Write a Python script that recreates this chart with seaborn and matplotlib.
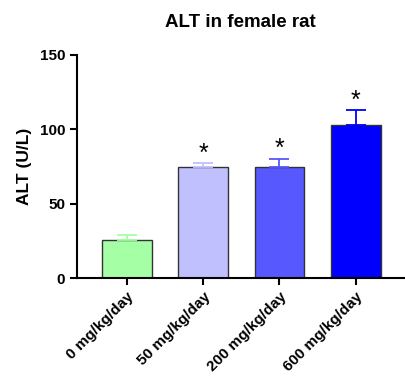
import numpy as np
import pandas as pd
import matplotlib
matplotlib.use('Agg')
import matplotlib.pyplot as plt
import seaborn as sns

groups = ['0 mg/kg/day', '50 mg/kg/day', '200 mg/kg/day', '600 mg/kg/day']
alt_mean = [25.6, 74.8, 74.8, 103.2]
alt_sem = [3.5, 2.3, 5.2, 9.6]
signif = ['', '*', '*', '*']
colors = ['#A5FFA5', '#C0C0FF', '#5858FF', '#0000FF']

sns.set_style('ticks')
plt.rcParams['font.family'] = ['Liberation Sans', 'DejaVu Sans']
plt.rcParams['font.weight'] = 'bold'
plt.rcParams['text.color'] = 'black'
plt.rcParams['axes.labelcolor'] = 'black'
plt.rcParams['xtick.color'] = 'black'
plt.rcParams['ytick.color'] = 'black'
plt.rcParams['axes.edgecolor'] = 'black'

df = pd.DataFrame({'group': groups, 'ALT': alt_mean})

fig = plt.figure(figsize=(4.06, 3.81), dpi=100)
ax = fig.add_axes([0.19, 0.27, 0.805, 0.586])

sns.barplot(data=df, x='group', y='ALT', hue='group', palette=colors, saturation=1,
            width=0.65, edgecolor='#333333', linewidth=1.0, legend=False, ax=ax)

for i in range(len(groups)):
    ax.errorbar(i, alt_mean[i], yerr=[[0], [alt_sem[i]]], color=colors[i],
                capsize=7, elinewidth=1.3, capthick=1.3, fmt='none', zorder=1)
    if signif[i]:
        ax.text(i, alt_mean[i] + alt_sem[i] - 1.5, signif[i], ha='center',
                va='bottom', fontsize=18, fontweight='normal')

ax.set_xlim(-0.65, 3.63)
ax.set_ylim(0, 150)
ax.set_yticks([0, 50, 100, 150])
ax.set_xlabel('')
ax.set_ylabel('ALT (U/L)', fontsize=12.5, fontweight='bold', labelpad=6)
ax.set_title('ALT in female rat', fontsize=13.5, fontweight='bold', pad=20)
ax.tick_params(axis='both', labelsize=11, width=1.5, length=5)
plt.setp(ax.get_xticklabels(), rotation=45, ha='right', rotation_mode='anchor', fontweight='bold')
plt.setp(ax.get_yticklabels(), fontweight='bold')
for s in ['left', 'bottom']:
    ax.spines[s].set_linewidth(1.5)
sns.despine(ax=ax)

fig.savefig('out.png', dpi=100)
